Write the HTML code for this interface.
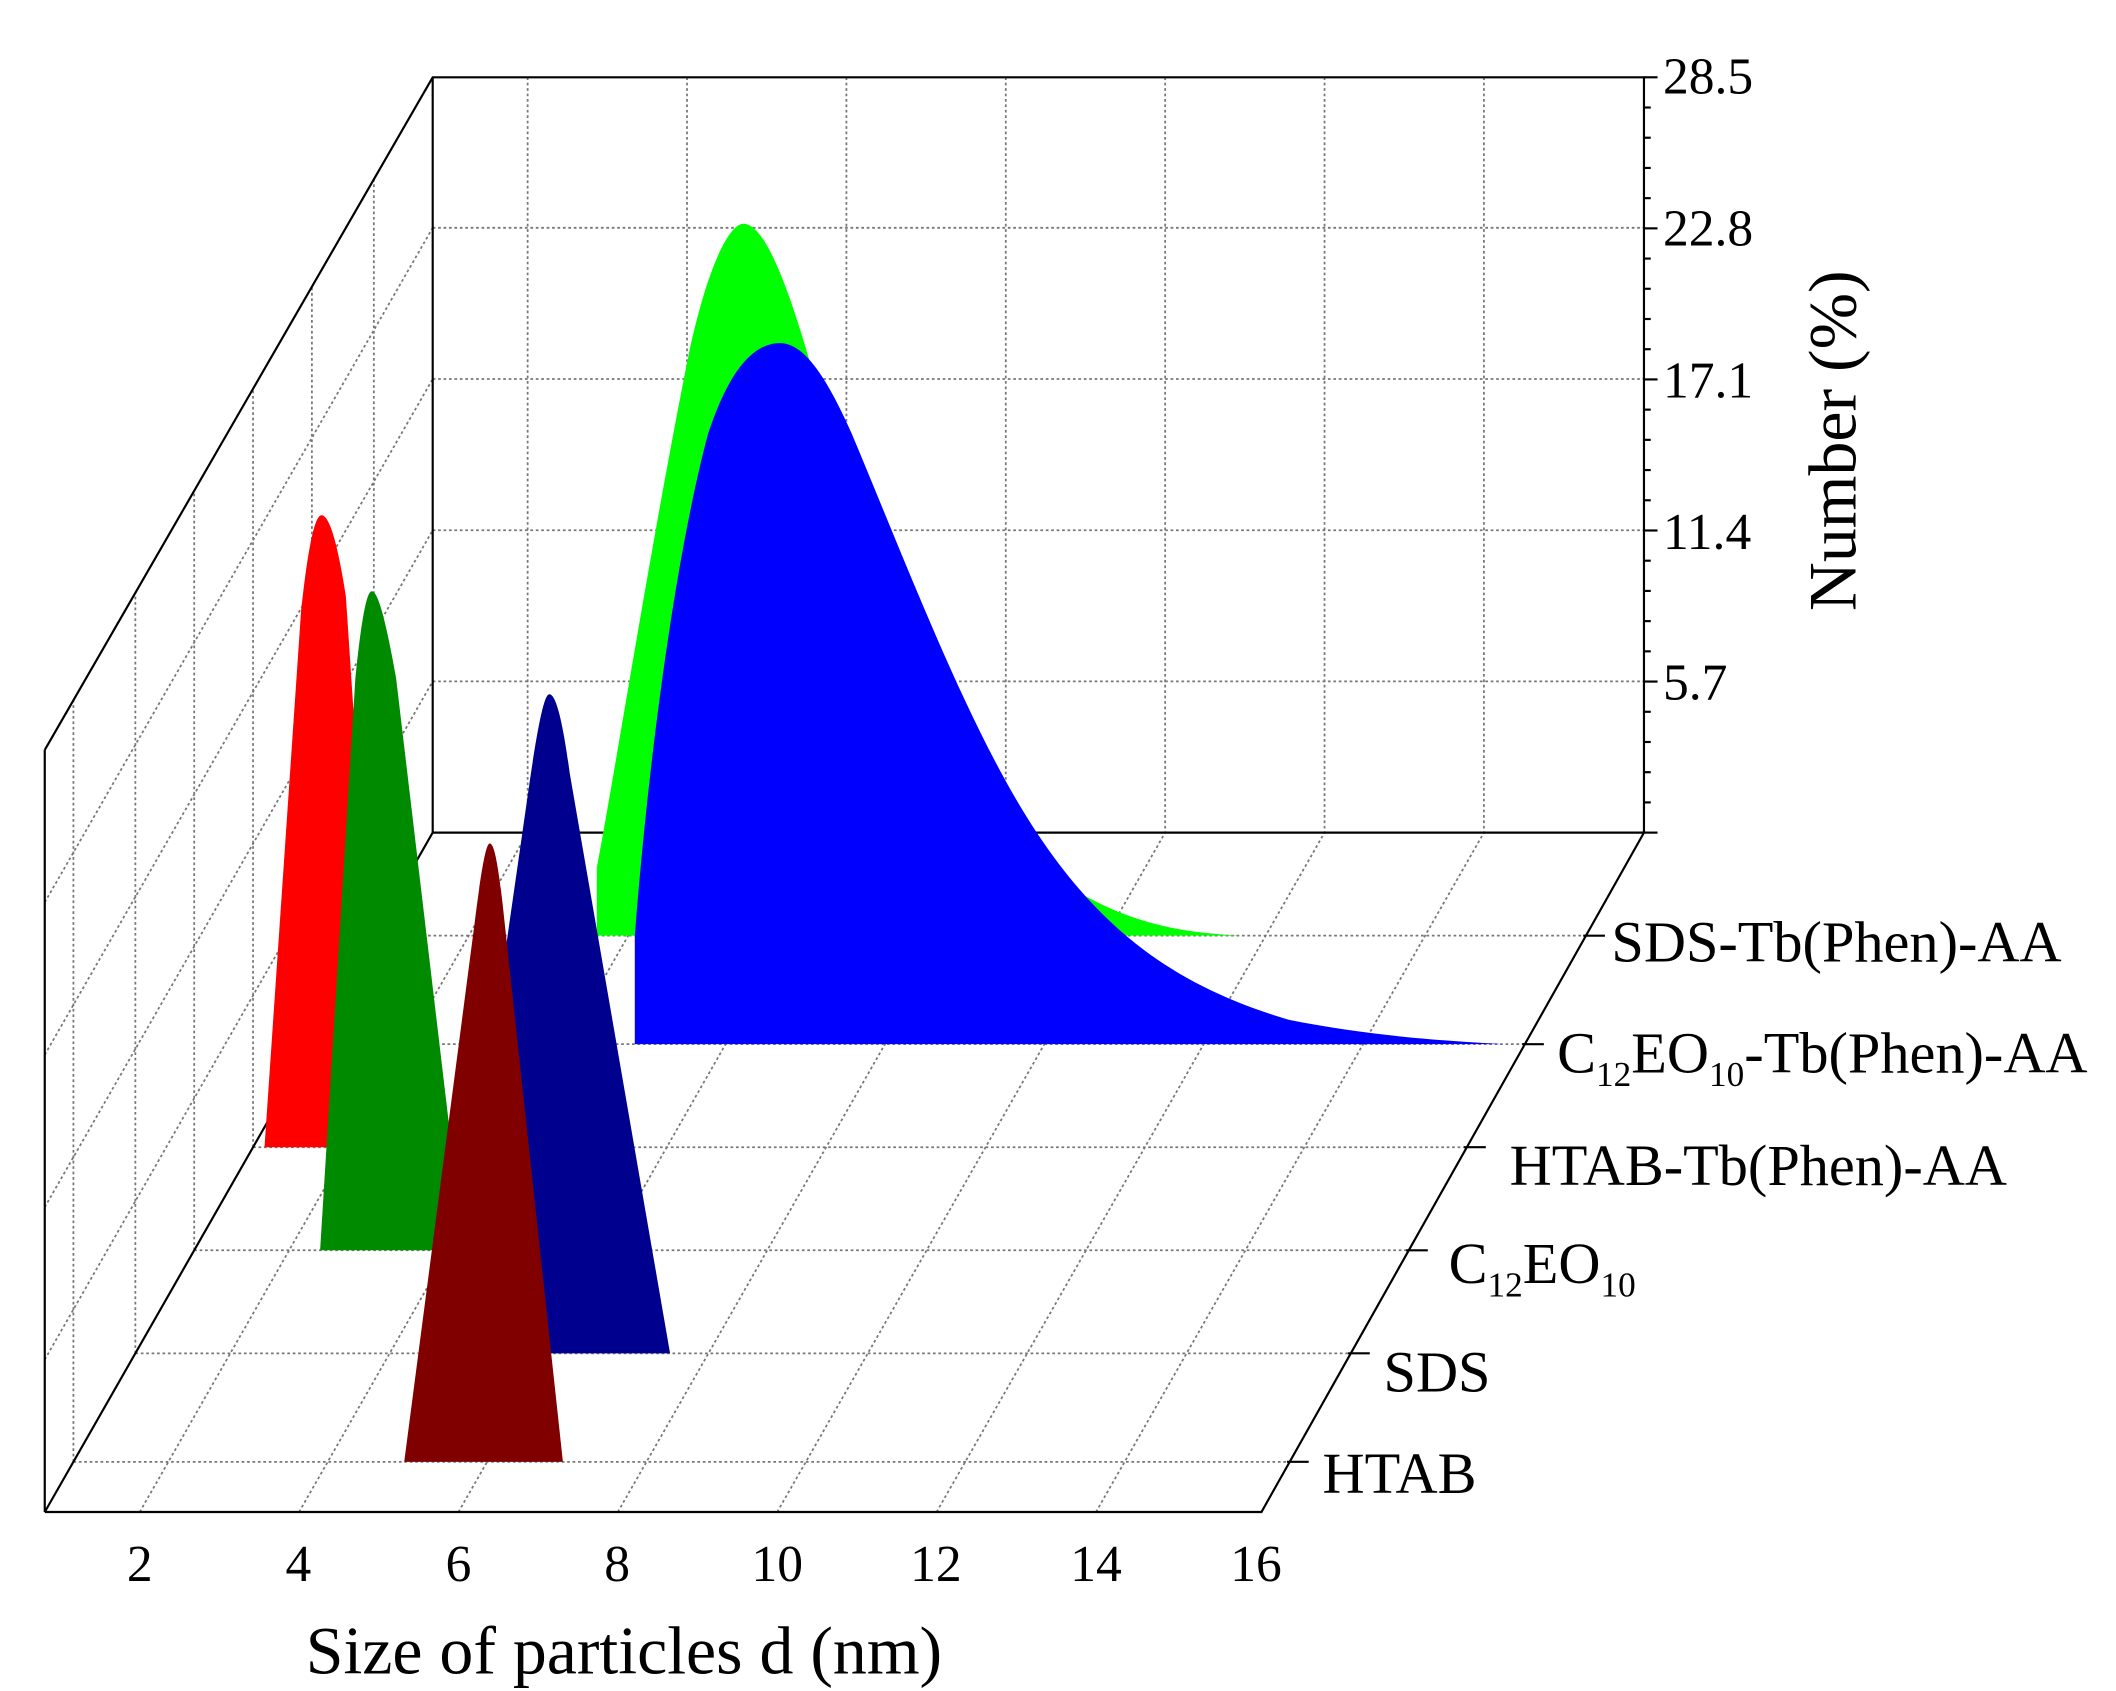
<!DOCTYPE html>
<html><head><meta charset="utf-8"><style>
html,body{margin:0;padding:0;background:#fff;}
svg{display:block;}
text{font-family:"Liberation Serif",serif;fill:#000;}
</style></head><body>
<svg id="s" width="2116" height="1691" viewBox="0 0 1560 1247" preserveAspectRatio="none" xmlns="http://www.w3.org/2000/svg">
<rect width="1560" height="1247" fill="#fff"/>
<g id="grid" stroke="#777" stroke-width="1.3" stroke-dasharray="2,2" fill="none"></g>
<g stroke="#000" stroke-width="1.6" fill="none">
<polyline points="33,553 319,57 1212,57 1212,614"/>
<line x1="319" y1="57" x2="319" y2="614"/>
<line x1="33" y1="553" x2="33" y2="1115"/>
<polyline points="33,1115 930,1115 1212,614 319,614 33,1115"/>
</g>
<g id="ticks" stroke="#000" stroke-width="1.6"></g>
<path fill="#00ff00" d="M440,690 L440,640 C455,560 480,400 508,260 C522,195 538,165 548,165 C560,165 575,190 598,270 C640,420 700,580 790,655 C840,685 880,688 915,690 Z"/>
<path fill="#0000ff" d="M468,770 L468,690 C478,560 498,410 522,320 C540,265 560,253 575,253 C592,253 608,275 628,320 C670,420 715,540 765,615 C815,690 870,728 950,752 C1020,766 1080,768 1108,770 Z"/>
<path fill="#ff0000" d="M195,846 L222,450 C228,395 233,380 237,380 C242,380 248,395 255,440 L282,846 Z"/>
<path fill="#008a00" d="M236,922 L262,500 C267,450 271,436 274,436 C278,436 283,450 292,500 L342,922 Z"/>
<path fill="#00008f" d="M330,998 L390,580 C398,525 402,512 405,512 C409,512 414,525 420,570 L494,998 Z"/>
<path fill="#800000" d="M298,1078 L350,680 C356,632 359,622 361,622 C364,622 367,632 372,680 L415,1078 Z"/>
<g font-size="38">
<text x="1226" y="69">28.5</text>
<text x="1226" y="181">22.8</text>
<text x="1226" y="293">17.1</text>
<text x="1226" y="405">11.4</text>
<text x="1226" y="516">5.7</text>
</g>
<text font-size="50" transform="translate(1368,325) rotate(-90)" text-anchor="middle">Number (%)</text>
<g font-size="38" text-anchor="middle">
<text x="103" y="1166">2</text><text x="220" y="1166">4</text><text x="338" y="1166">6</text><text x="455" y="1166">8</text>
<text x="573" y="1166">10</text><text x="690" y="1166">12</text><text x="808" y="1166">14</text><text x="926" y="1166">16</text>
</g>
<text font-size="50" x="460" y="1234" text-anchor="middle">Size of particles d (nm)</text>
<g font-size="43">
<text x="1188" y="709">SDS-Tb(Phen)-AA</text>
<text x="1148" y="791">C<tspan font-size="26" dy="10">12</tspan><tspan dy="-10">EO</tspan><tspan font-size="26" dy="10">10</tspan><tspan dy="-10">-Tb(Phen)-AA</tspan></text>
<text x="1113" y="874">HTAB-Tb(Phen)-AA</text>
<text x="1068" y="946">C<tspan font-size="26" dy="10">12</tspan><tspan dy="-10">EO</tspan><tspan font-size="26" dy="10">10</tspan></text>
<text x="1020" y="1026">SDS</text>
<text x="975" y="1101">HTAB</text>
</g>
</svg>
<script>
(function(){
var ns="http://www.w3.org/2000/svg",g=document.getElementById('grid'),tk=document.getElementById('ticks');
function L(p,x1,y1,x2,y2){var l=document.createElementNS(ns,'line');l.setAttribute('x1',x1);l.setAttribute('y1',y1);l.setAttribute('x2',x2);l.setAttribute('y2',y2);p.appendChild(l);}
var rows=[1078,998,922,846,770,690];
rows.forEach(function(y){var t=(1115-y)/501;
 L(g,33+286*t,y,930+282*t,y);
 L(g,33+286*t,y,33+286*t,553-496*t);
 L(tk,930+282*t-2,y,930+282*t+14,y);
});
for(var k=0;k<7;k++){var fx=103+117.5*k;L(g,fx,1115,fx+286,614);L(g,389+117.5*k,57,389+117.5*k,614);}
for(var k=1;k<=4;k++){L(g,33,1115-k*112.4,319,614-k*111.5);L(g,319,614-k*111.5,1212,614-k*111.5);}
for(var k=0;k<=25;k++){var y=614-k*557/25;L(tk,1212,y,1212+(k%5==0?10:5),y);}
})();
</script>
</body></html>
